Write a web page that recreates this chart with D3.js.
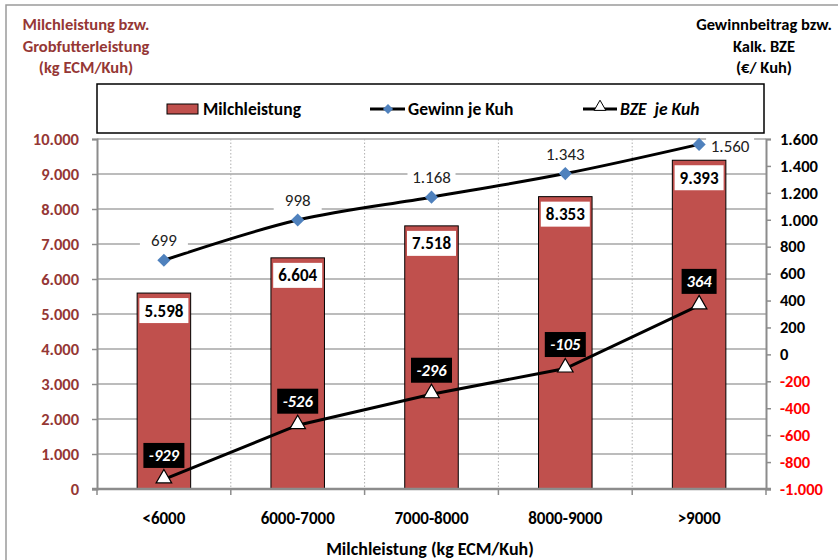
<!DOCTYPE html>
<html>
<head>
<meta charset="utf-8">
<script src="https://cdn.jsdelivr.net/npm/d3@7"></script>
<style>
  html, body { margin: 0; padding: 0; background: #fff; }
  svg { display: block; font-family: Carlito, Lato, "Open Sans", sans-serif; }
</style>
</head>
<body>
<svg id="chart" width="838" height="560"></svg>
<script>
// Milk-yield classes and their results
const categories = ["<6000", "6000-7000", "7000-8000", "8000-9000", ">9000"];
const milchleistung = [5598, 6604, 7518, 8353, 9393];
const gewinnJeKuh = [699, 998, 1168, 1343, 1560];
const bzeJeKuh = [-929, -526, -296, -105, 364];
const leftTicks = [0, 1000, 2000, 3000, 4000, 5000, 6000, 7000, 8000, 9000, 10000];
const rightTicks = [-1000, -800, -600, -400, -200, 0, 200, 400, 600, 800, 1000, 1200, 1400, 1600];

const de = d3.formatLocale({ decimal: ",", thousands: ".", grouping: [3], currency: ["", " €"], minus: "-" });
const fmt = de.format(",d");

const svg = d3.select("#chart");
const plot = { left: 97, right: 766, top: 139, bottom: 489 };

const x = d3.scaleBand().domain(categories).range([plot.left, plot.right]).paddingInner(0.6).paddingOuter(0.3);
const xc = d3.scaleBand().domain(categories).range([plot.left, plot.right]);
const yL = d3.scaleLinear().domain([0, 10000]).range([plot.bottom, plot.top]);
const yR = d3.scaleLinear().domain([-1000, 1600]).range([plot.bottom, plot.top]);

const darkRed = "#953735";
const axisGrey = "#8c8c8c";
const fontFam = "Carlito, Lato, sans-serif";

// outer frame
svg.append("rect").attr("x", 6).attr("y", 5).attr("width", 840).attr("height", 560)
  .attr("fill", "none").attr("stroke", "#9a9a9a").attr("stroke-width", 1.5);

// axis titles
const leftTitle = ["Milchleistung bzw.", "Grobfutterleistung", "(kg ECM/Kuh)"];
svg.append("g").selectAll("text").data(leftTitle).join("text")
  .attr("x", 86).attr("y", (d, i) => 30 + i * 21.5)
  .attr("text-anchor", "middle").attr("font-size", 16.5).attr("font-weight", "bold")
  .attr("fill", darkRed).text(d => d);

const rightTitle = ["Gewinnbeitrag bzw.", "Kalk. BZE", "(€/ Kuh)"];
svg.append("g").selectAll("text").data(rightTitle).join("text")
  .attr("x", 764).attr("y", (d, i) => 30 + i * 21.5)
  .attr("text-anchor", "middle").attr("font-size", 16.5).attr("font-weight", "bold")
  .attr("fill", "#000").text(d => d);

// horizontal gridlines
svg.append("g").selectAll("line").data(leftTicks.filter(d => d > 0)).join("line")
  .attr("x1", plot.left).attr("x2", plot.right)
  .attr("y1", d => yL(d)).attr("y2", d => yL(d))
  .attr("stroke", "#a6a6a6").attr("stroke-width", 1.3);

// vertical dotted separators between classes
svg.append("g").selectAll("line").data(categories.slice(1)).join("line")
  .attr("x1", d => xc(d)).attr("x2", d => xc(d))
  .attr("y1", plot.top).attr("y2", plot.bottom)
  .attr("stroke", "#b0b0b0").attr("stroke-width", 1).attr("stroke-dasharray", "1.5,2");

// bars
svg.append("g").selectAll("rect").data(milchleistung).join("rect")
  .attr("x", (d, i) => x(categories[i])).attr("width", x.bandwidth())
  .attr("y", d => yL(d)).attr("height", d => yL(0) - yL(d))
  .attr("fill", "#C0504D").attr("stroke", "#000").attr("stroke-width", 1);

// axes
const axL = svg.append("g").attr("transform", `translate(${plot.left},0)`)
  .call(d3.axisLeft(yL).tickValues(leftTicks).tickSize(5).tickFormat(fmt));
axL.select(".domain").attr("stroke", axisGrey).attr("stroke-width", 2);
axL.selectAll(".tick line").attr("stroke", axisGrey).attr("stroke-width", 1.5);
axL.selectAll(".tick text").attr("x", -18).attr("font-size", 16.5).attr("font-weight", "bold")
  .attr("fill", darkRed).attr("font-family", fontFam);

const axR = svg.append("g").attr("transform", `translate(${plot.right},0)`)
  .call(d3.axisRight(yR).tickValues(rightTicks).tickSize(5).tickFormat(fmt));
axR.select(".domain").attr("stroke", axisGrey).attr("stroke-width", 2);
axR.selectAll(".tick line").attr("stroke", axisGrey).attr("stroke-width", 1.5);
axR.selectAll(".tick text").attr("x", 14).attr("font-size", 16.5).attr("font-weight", "bold")
  .attr("fill", d => d < 0 ? "#ff0000" : "#000").attr("font-family", fontFam);

// bottom axis with tick marks on class boundaries
const axB = svg.append("g").attr("transform", `translate(0,${plot.bottom})`);
axB.append("line").attr("x1", plot.left - 5).attr("x2", plot.right + 5)
  .attr("stroke", axisGrey).attr("stroke-width", 2.5);
axB.selectAll("line.tk").data(categories.concat(["end"])).join("line").attr("class", "tk")
  .attr("x1", (d, i) => plot.left + i * xc.step()).attr("x2", (d, i) => plot.left + i * xc.step())
  .attr("y1", 0).attr("y2", 6).attr("stroke", axisGrey).attr("stroke-width", 1.5);
axB.selectAll("text").data(categories).join("text")
  .attr("x", d => xc(d) + xc.bandwidth() / 2).attr("y", 35)
  .attr("text-anchor", "middle").attr("font-size", 17).attr("font-weight", "bold").text(d => d);

svg.append("text").attr("x", 430).attr("y", 555).attr("text-anchor", "middle")
  .attr("font-size", 18).attr("font-weight", "bold").text("Milchleistung (kg ECM/Kuh)");

// bar value labels (white boxes inside the bar top)
const barLab = svg.append("g").selectAll("g").data(milchleistung).join("g")
  .attr("transform", (d, i) => `translate(${xc(categories[i]) + xc.bandwidth() / 2},${yL(d) + 17.5})`);
barLab.append("rect").attr("x", -24.5).attr("y", -12.5).attr("width", 49).attr("height", 25).attr("fill", "#fff");
barLab.append("text").attr("text-anchor", "middle").attr("dy", "0.35em")
  .attr("font-size", 17).attr("font-weight", "bold").text(d => fmt(d));

const cx = i => xc(categories[i]) + xc.bandwidth() / 2;

// Gewinn je Kuh line
const lineG = d3.line().x((d, i) => cx(i)).y(d => yR(d)).curve(d3.curveMonotoneX);
svg.append("path").datum(gewinnJeKuh).attr("d", lineG)
  .attr("fill", "none").attr("stroke", "#000").attr("stroke-width", 3);
svg.append("g").selectAll("path").data(gewinnJeKuh).join("path")
  .attr("transform", (d, i) => `translate(${cx(i)},${yR(d)})`)
  .attr("d", d3.symbol(d3.symbolDiamond2, 110)).attr("fill", "#4F81BD");
const gLab = svg.append("g").selectAll("g").data(gewinnJeKuh).join("g")
  .attr("transform", (d, i) => i === gewinnJeKuh.length - 1
    ? `translate(${cx(i) + 31},${yR(d) + 2})`
    : `translate(${cx(i)},${yR(d) - 20})`);
gLab.append("rect").attr("x", -24).attr("y", -11).attr("width", 48).attr("height", 22).attr("fill", "#fff");
gLab.append("text").attr("text-anchor", "middle").attr("dy", "0.35em")
  .attr("font-size", 17).attr("fill", "#222").text(d => fmt(d));

// BZE je Kuh line
const lineB = d3.line().x((d, i) => cx(i)).y(d => yR(d));
svg.append("path").datum(bzeJeKuh).attr("d", lineB)
  .attr("fill", "none").attr("stroke", "#000").attr("stroke-width", 3);
svg.append("g").selectAll("path").data(bzeJeKuh).join("path")
  .attr("transform", (d, i) => `translate(${cx(i)},${yR(d) - 1})`)
  .attr("d", d3.symbol(d3.symbolTriangle, 105)).attr("fill", "#fff").attr("stroke", "#000").attr("stroke-width", 1.2);
const bLab = svg.append("g").selectAll("g").data(bzeJeKuh).join("g")
  .attr("transform", (d, i) => `translate(${cx(i)},${yR(d) - 24})`);
bLab.append("rect").attr("x", d => d < 0 ? -20.5 : -17.5).attr("y", -12.5)
  .attr("width", d => d < 0 ? 41 : 35).attr("height", 25).attr("fill", "#000");
bLab.append("text").attr("text-anchor", "middle").attr("dy", "0.35em")
  .attr("font-size", 16.5).attr("font-weight", "bold").attr("font-style", "italic")
  .attr("fill", "#fff").text(d => fmt(d));

// legend
const leg = svg.append("g");
leg.append("rect").attr("x", 97).attr("y", 84).attr("width", 667).attr("height", 49)
  .attr("fill", "#fff").attr("stroke", "#000").attr("stroke-width", 1.5);
leg.append("rect").attr("x", 167).attr("y", 104).attr("width", 31).attr("height", 10)
  .attr("fill", "#C0504D").attr("stroke", "#000").attr("stroke-width", 1);
leg.append("text").attr("x", 203).attr("y", 109).attr("dy", "0.35em")
  .attr("font-size", 17.5).attr("font-weight", "bold").text("Milchleistung");
leg.append("line").attr("x1", 370).attr("x2", 405).attr("y1", 109).attr("y2", 109)
  .attr("stroke", "#000").attr("stroke-width", 3);
leg.append("path").attr("transform", "translate(388,109)")
  .attr("d", d3.symbol(d3.symbolDiamond2, 65)).attr("fill", "#4F81BD");
leg.append("text").attr("x", 408).attr("y", 109).attr("dy", "0.35em")
  .attr("font-size", 17.5).attr("font-weight", "bold").text("Gewinn je Kuh");
leg.append("line").attr("x1", 583).attr("x2", 617).attr("y1", 109).attr("y2", 109)
  .attr("stroke", "#000").attr("stroke-width", 3);
leg.append("path").attr("transform", "translate(600,107)")
  .attr("d", d3.symbol(d3.symbolTriangle, 60)).attr("fill", "#fff").attr("stroke", "#000").attr("stroke-width", 1);
leg.append("text").attr("x", 620).attr("y", 109).attr("dy", "0.35em")
  .attr("font-size", 17.5).attr("font-weight", "bold").attr("font-style", "italic")
  .attr("xml:space", "preserve").text("BZE  je Kuh");
</script>
</body>
</html>
